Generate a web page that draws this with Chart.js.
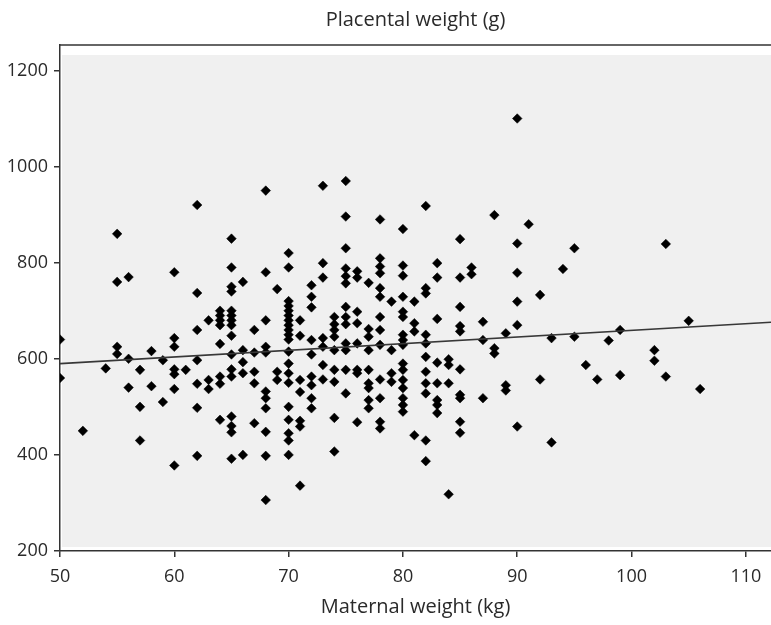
<!DOCTYPE html>
<html>
<head>
<meta charset="utf-8">
<script src="https://cdn.jsdelivr.net/npm/chart.js@4/dist/chart.umd.min.js"></script>
<style>
  html, body { margin: 0; padding: 0; background: #ffffff; }
  canvas { display: block; }
</style>
</head>
<body>
<canvas id="c" width="771" height="625"></canvas>
<script>
// Maternal weight (kg) columns and the placental weights (g) observed at each
const weightsKg = [50, 52, 54, 55, 56, 57, 58, 59, 60, 61, 62, 63, 64, 65, 66, 67, 68, 69, 70,
  71, 72, 73, 74, 75, 76, 77, 78, 79, 80, 81, 82, 83, 84, 85, 86, 87, 88, 89, 90,
  91, 92, 93, 94, 95, 96, 97, 98, 99, 102, 103, 105, 106];
const placentalByKg = [
  [640, 560],
  [450],
  [580],
  [860, 760, 625, 610],
  [770, 600, 540],
  [577, 500, 430],
  [616, 543],
  [597, 510],
  [780, 643, 625, 578, 568, 537, 378],
  [577],
  [920, 737, 660, 597, 548, 498, 398],
  [680, 556, 537],
  [700, 690, 680, 670, 631, 563, 548, 473],
  [850, 790, 750, 740, 700, 690, 680, 670, 648, 609, 578, 563, 480, 460, 447, 392],
  [760, 618, 593, 570, 400],
  [660, 613, 573, 549, 466],
  [950, 780, 680, 625, 613, 532, 518, 497, 448, 398, 306],
  [745, 573, 556],
  [820, 790, 720, 710, 700, 690, 680, 670, 660, 650, 640, 615, 590, 570, 550, 500, 473, 445, 430, 400],
  [680, 648, 556, 531, 471, 459, 336],
  [753, 729, 707, 639, 609, 563, 545, 518, 497],
  [960, 799, 769, 643, 625, 587, 557],
  [687, 672, 660, 646, 618, 577, 552, 477, 407],
  [970, 896, 830, 788, 772, 757, 708, 687, 672, 632, 618, 577, 528],
  [782, 769, 698, 674, 632, 577, 570, 468],
  [758, 662, 646, 618, 577, 549, 539, 514, 497],
  [890, 809, 792, 778, 747, 729, 687, 660, 629, 557, 518, 469, 455],
  [719, 618, 570, 552],
  [870, 794, 773, 729, 698, 687, 650, 639, 629, 590, 577, 556, 539, 518, 504, 490],
  [719, 674, 657, 441],
  [918, 747, 736, 650, 632, 604, 573, 549, 528, 430, 387],
  [799, 769, 683, 592, 549, 514, 504, 487],
  [599, 587, 549, 318],
  [849, 769, 708, 668, 657, 578, 525, 518, 469, 446],
  [790, 776],
  [677, 639, 518],
  [899, 622, 611],
  [653, 545, 534],
  [1100, 840, 779, 719, 670, 459],
  [880],
  [733, 557],
  [643, 426],
  [787],
  [830, 646],
  [587],
  [557],
  [638],
  [660, 566],
  [618, 596],
  [839, 563],
  [679],
  [537]
];
// Fitted regression line end points
const fitX = [50, 112.2];
const fitY = [590, 676];
// Axis ranges / ticks
const xTicks = [50, 60, 70, 80, 90, 100, 110];
const yTicks = [200, 400, 600, 800, 1000, 1200];
const xRange = [50, 112.2];
const yRange = [200, 1253];

const points = [];
weightsKg.forEach((kg, i) => placentalByKg[i].forEach(g => points.push({ x: kg, y: g })));
const fitPoints = fitX.map((x, i) => ({ x: x, y: fitY[i] }));

const FONT = 'Open Sans';
const TXT = '#2a2a2a';
const AX = '#333333';

const frame = {
  id: 'frame',
  beforeDatasetsDraw(chart) {
    const { ctx, chartArea: a } = chart;
    ctx.save();
    ctx.fillStyle = '#f0f0f0';
    ctx.fillRect(a.left + 2, a.top + 10, a.right - a.left - 2, a.bottom - a.top - 14);
    ctx.restore();
  },
  afterDraw(chart) {
    const { ctx, chartArea: a } = chart;
    ctx.save();
    ctx.strokeStyle = AX;
    ctx.lineWidth = 1.5;
    ctx.beginPath();
    ctx.moveTo(a.left, a.top);
    ctx.lineTo(a.right, a.top);
    ctx.stroke();
    ctx.restore();
  }
};

new Chart(document.getElementById('c'), {
  type: 'scatter',
  data: {
    datasets: [
      {
        type: 'line',
        data: fitPoints,
        borderColor: '#383838',
        borderWidth: 1.7,
        pointRadius: 0,
        fill: false,
        order: 0
      },
      {
        data: points,
        pointStyle: 'rectRot',
        pointRadius: 4.8,
        backgroundColor: '#000000',
        borderColor: '#000000',
        borderWidth: 0.5,
        order: 1
      }
    ]
  },
  options: {
    responsive: false,
    animation: false,
    layout: { autoPadding: false, padding: { left: 0, right: 0, top: 0, bottom: 0 } },
    plugins: {
      legend: { display: false },
      tooltip: { enabled: false },
      title: {
        display: true,
        text: 'Placental weight (g)',
        fullSize: false,
        color: TXT,
        font: { family: FONT, size: 20, weight: 'normal', lineHeight: 1.2 },
        padding: { top: 8, bottom: 13 }
      }
    },
    scales: {
      x: {
        type: 'linear',
        min: xRange[0],
        max: xRange[1],
        afterFit: s => { s.height = 74; s.paddingLeft = 0; s.paddingRight = 0; },
        afterBuildTicks: s => { s.ticks = xTicks.map(v => ({ value: v })); },
        ticks: { color: TXT, font: { family: FONT, size: 18 }, padding: 9, maxRotation: 0,
                 callback: v => String(v) },
        grid: { drawOnChartArea: false, drawTicks: true, tickLength: 6, color: AX, lineWidth: 1.5 },
        border: { display: true, color: AX, width: 1.5 },
        title: {
          display: true,
          text: 'Maternal weight (kg)',
          color: TXT,
          font: { family: FONT, size: 20, lineHeight: 1.2 },
          padding: { top: 2, bottom: 6 }
        }
      },
      y: {
        type: 'linear',
        min: yRange[0],
        max: yRange[1],
        afterFit: s => { s.width = 60; s.paddingTop = 0; s.paddingBottom = 0; },
        afterBuildTicks: s => { s.ticks = yTicks.map(v => ({ value: v })); },
        ticks: { color: TXT, font: { family: FONT, size: 18 }, padding: 6,
                 callback: v => String(v) },
        grid: { drawOnChartArea: false, drawTicks: true, tickLength: 6, color: AX, lineWidth: 1.5 },
        border: { display: true, color: AX, width: 1.5 }
      }
    }
  },
  plugins: [frame]
});
</script>
</body>
</html>
